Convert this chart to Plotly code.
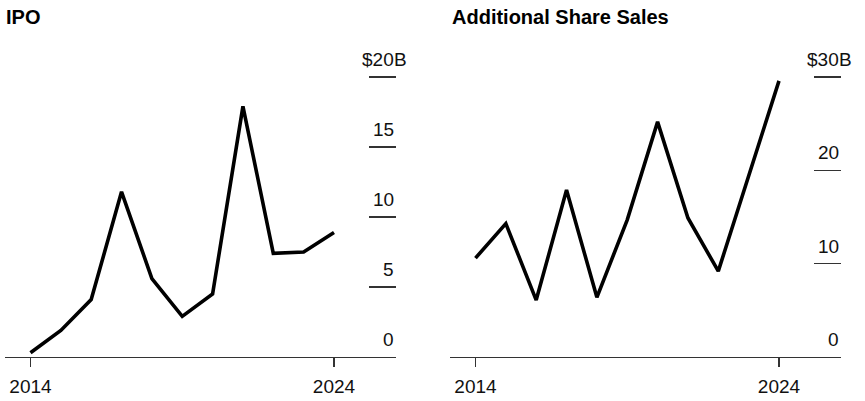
import plotly.graph_objects as go

years = list(range(2014, 2025))
ipo = [0.3, 1.9, 4.1, 11.8, 5.6, 2.9, 4.5, 17.9, 7.4, 7.5, 8.9]
additional = [10.6, 14.3, 6.1, 17.9, 6.4, 14.7, 25.2, 14.9, 9.2, 19.4, 29.6]

ipo_ticks = [0, 5, 10, 15, 20]
add_ticks = [0, 10, 20, 30]
x_ticks = [2014, 2024]
x_ticktext = ["2014", "2024"]
titles = ["IPO", "Additional Share Sales"]

FONT = "Liberation Sans, Arial, Helvetica, sans-serif"
W, H = 865, 401
LINE = "#000000"
AX = "#333333"

fig = go.Figure()
fig.add_trace(go.Scatter(x=years, y=ipo, mode="lines",
                         line=dict(color=LINE, width=3.6), xaxis="x", yaxis="y",
                         hoverinfo="skip"))
fig.add_trace(go.Scatter(x=years, y=additional, mode="lines",
                         line=dict(color=LINE, width=3.6), xaxis="x2", yaxis="y2",
                         hoverinfo="skip"))

xr = [2013.16, 2013.16 + 391 / 30.35]
ybot = (H - 357) / H
ytop = (H - 60) / H

xcommon = dict(range=xr, showgrid=False, zeroline=False, showline=True,
               linecolor=AX, linewidth=1.3, ticks="outside", ticklen=9,
               tickwidth=1.3, tickcolor=AX, tickvals=x_ticks, ticktext=x_ticktext,
               ticklabelstandoff=3,
               tickfont=dict(family=FONT, size=19, color="#111"), fixedrange=True)
ycommon = dict(side="right", showgrid=False, zeroline=False, showline=False,
               ticks="inside", ticklen=27, tickwidth=1.3, tickcolor=AX,
               showticklabels=False, domain=[ybot, ytop], fixedrange=True)

fig.update_layout(
    width=W, height=H,
    margin=dict(l=0, r=0, t=0, b=0),
    paper_bgcolor="white", plot_bgcolor="white",
    showlegend=False,
    xaxis=dict(domain=[5 / W, 396 / W], anchor="y", **xcommon),
    xaxis2=dict(domain=[450 / W, 841 / W], anchor="y2", **xcommon),
    yaxis=dict(anchor="x", range=[0, 297 / 14.0], tickvals=ipo_ticks, **ycommon),
    yaxis2=dict(anchor="x2", range=[0, 297 / 9.33], tickvals=add_ticks, **ycommon),
)

annotations = []
for xref, yref, ticks in [("x domain", "y", ipo_ticks), ("x2 domain", "y2", add_ticks)]:
    for i, v in enumerate(ticks):
        last = i == len(ticks) - 1
        txt = f"${v}" if last else f"{v}"
        annotations.append(dict(xref=xref, yref=yref, x=1, y=v, text=txt,
                                xanchor="right", yanchor="bottom", yshift=5,
                                showarrow=False,
                                font=dict(family=FONT, size=19, color="#111")))
        if last:
            annotations.append(dict(xref=xref, yref=yref, x=1, y=v, text="B",
                                    xanchor="left", yanchor="bottom", yshift=5,
                                    xshift=-4, showarrow=False,
                                    font=dict(family=FONT, size=19, color="#111")))

for xpx, t in zip([4, 450], titles):
    annotations.append(dict(xref="paper", yref="paper", x=xpx / W, y=1 - 17 / H,
                            text=f"<b>{t}</b>", xanchor="left", yanchor="middle",
                            showarrow=False,
                            font=dict(family=FONT, size=20, color="#000")))

fig.update_layout(annotations=annotations)
fig.write_html("out.html", config={"displayModeBar": False, "staticPlot": True},
               post_script="document.body.style.margin='0';document.body.style.padding='0';")
